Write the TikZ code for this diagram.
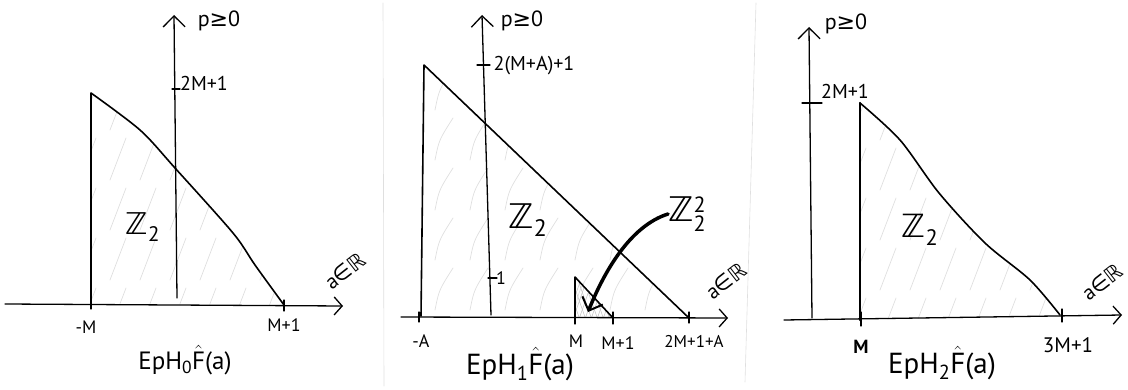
\documentclass[tikz,border=0pt]{standalone}
\usepackage{amsmath}
\usepackage{fontspec}
\setmainfont{PT Sans}
\newfontfamily\sym{DejaVu Sans}
\usetikzlibrary{arrows.meta}

\begin{document}
\begin{tikzpicture}[x=1pt,y=-1pt,line cap=round,line join=round,
 axis/.style={line width=1.3pt,-{Straight Barb[length=8pt,width=18pt]}},
 yaxis/.style={line width=1.3pt,-{Straight Barb[length=11pt,width=22pt]}},
 region/.style={line width=1.6pt},
 tickmark/.style={line width=1.2pt},
 hatch/.style={gray!25,line width=0.7pt},
 lbl/.style={inner sep=0pt,font=\fontsize{18}{18}\selectfont},
 zlbl/.style={inner sep=0pt,font=\fontsize{34}{34}\selectfont},
 ttl/.style={inner sep=0pt,font=\fontsize{27}{27}\selectfont},
 axlbl/.style={inner sep=0pt,rotate=38,font=\fontsize{21}{21}\selectfont},
 sep/.style={gray!25,line width=0.6pt}
]
\useasboundingbox (0,0) rectangle (1128,390);
\draw[sep] (383,3) -- (384,386);
\draw[sep] (756,3) -- (745,382);

% panel H0
\coordinate (l0) at (91,304); \coordinate (t0) at (91,93); \coordinate (r0) at (284,305);
\begin{scope}
\clip (l0) -- (t0) -- plot[smooth] coordinates {(91,93) (140,130) (175,168) (233,233) (255,265) (284,305)} -- cycle;
\foreach \x in {80,110,...,290} \foreach \y in {130,180,...,330} \draw[hatch] (\x,\y) -- ++(16,-42);
\end{scope}
\draw[region] (l0) -- (t0) plot[smooth] coordinates {(91,93) (140,130) (175,168) (233,233) (255,265) (284,305)};
\draw[axis] (5,304) coordinate (xs0) -- (343,306) coordinate (xe0);
\draw[yaxis] (177,298) coordinate (ys0) -- (174,15) coordinate (ye0);
\draw[tickmark] (91,299) -- (91,309) (284,300) -- (284,311) (172,89) -- (180,89);
\node[lbl,font=\fontsize{22}{22}\selectfont] (p0) at (219,21) {p{\sym ≥}0};
\node[lbl,font=\fontsize{20}{20}\selectfont] (h0) at (204,83) {2M+1};
\node[lbl] (m0) at (86,327) {-M};
\node[lbl] (n0) at (284,325) {M+1};
\node[axlbl] (a0) at (345,271) {a{\sym ∈ℝ}};
\node[zlbl,font=\fontsize{30}{30}\selectfont] (z0) at (143,227) {{\sym ℤ}\textsubscript{2}};
\node[ttl,font=\fontsize{25}{25}\selectfont] (c0) at (185,360) {EpH\textsubscript{0}$\hat{\text{F}}$(a)};

% panel H1
\coordinate (l1) at (421,316); \coordinate (t1) at (424,65); \coordinate (r1) at (689,318);
\begin{scope}
\clip (l1) -- (t1) -- (r1) -- cycle;
\foreach \x in {400,435,...,700} \foreach \y in {110,160,...,340} \draw[hatch] (\x,\y) .. controls (\x+4,\y-20) .. (\x+18,\y-42);
\end{scope}
\draw[region] (l1) -- (t1) -- (r1);
\coordinate (s1) at (575,318); \coordinate (u1) at (575,277); \coordinate (v1) at (613,318);
\begin{scope}
\clip (s1) -- (u1) -- (v1) -- cycle;
\foreach \x in {560,566,...,620} \draw[gray!45,line width=0.6pt] (\x,322) -- ++(14,-40) (\x,280) -- ++(14,40);
\end{scope}
\draw[region] (s1) -- (u1) -- (v1);
\draw[axis] (401,317) coordinate (xs1) -- (728,318) coordinate (xe1);
\draw[yaxis] (491,315) coordinate (ys1) -- (482,15) coordinate (ye1);
\draw[tickmark] (419,312) -- (419,322) (575,312) -- (575,324) (613,312) -- (613,324) (689,312) -- (689,323)
 (477,65) -- (490,65) (488,278) -- (497,278);
\node[lbl,font=\fontsize{22}{22}\selectfont] (p1) at (522,21) {p{\sym ≥}0};
\node[lbl,font=\fontsize{20}{20}\selectfont] (h1) at (534,66) {2(M+A)+1};
\node[lbl] (o1) at (501,278) {1};
\node[lbl] (m1) at (421,341) {-A};
\node[lbl] (k1) at (576,341) {M};
\node[lbl] (n1) at (618,343) {M+1};
\node[lbl,font=\fontsize{17}{17}\selectfont] (w1) at (694,341) {2M+1+A};
\node[axlbl] (a1) at (726,281) {a{\sym ∈ℝ}};
\node[zlbl] (z1) at (528,220) {{\sym ℤ}\textsubscript{2}};
\node[zlbl,anchor=west] (q1) at (668,214) {{\sym ℤ}$^{\text{\fontsize{22}{22}\selectfont 2}}_{\text{\fontsize{22}{22}\selectfont 2}}$};
\draw[line width=3.5pt,-{Straight Barb[length=11pt,width=22pt,line width=2pt]}] (q1.west) .. controls (630,226) and (604,272) .. (588,312);
\node[ttl,font=\fontsize{29}{29}\selectfont] (c1) at (520,364) {EpH\textsubscript{1}$\hat{\text{F}}$(a)};

% panel H2
\coordinate (l2) at (860,320); \coordinate (t2) at (860,103); \coordinate (r2) at (1060,315);
\begin{scope}
\clip (l2) -- (t2) -- plot[smooth] coordinates {(860,103) (900,140) (939,193) (985,243) (1030,280) (1060,315)} -- cycle;
\foreach \x in {850,880,...,1070} \foreach \y in {140,190,...,340} \draw[hatch] (\x,\y) -- ++(16,-42);
\end{scope}
\draw[region] (t2) plot[smooth] coordinates {(860,103) (900,140) (939,193) (985,243) (1030,280) (1060,315)};
\draw[line width=2.2pt] (l2) -- (t2);
\draw[axis] (784,320) coordinate (xs2) -- (1122,315) coordinate (xe2);
\draw[yaxis] (812,318) coordinate (ys2) -- (809,27) coordinate (ye2);
\draw[tickmark] (802,103) -- (822,103) (861,312) -- (861,326) (1062,309) -- (1062,322);
\node[lbl,font=\fontsize{22}{22}\selectfont] (p2) at (846,24) {p{\sym ≥}0};
\node[lbl,font=\fontsize{20}{20}\selectfont] (h2) at (845,91) {2M+1};
\node[lbl,font=\bfseries\fontsize{19}{19}\selectfont] (m2) at (861,347) {M};
\node[lbl,font=\fontsize{21}{21}\selectfont] (n2) at (1068,345) {3M+1};
\node[axlbl] (a2) at (1102,282) {a{\sym ∈ℝ}};
\node[zlbl,font=\fontsize{32}{32}\selectfont] (z2) at (920,230) {{\sym ℤ}\textsubscript{2}};
\node[ttl,font=\fontsize{29}{29}\selectfont] (c2) at (942,363) {EpH\textsubscript{2}$\hat{\text{F}}$(a)};
\end{tikzpicture}
\end{document}
